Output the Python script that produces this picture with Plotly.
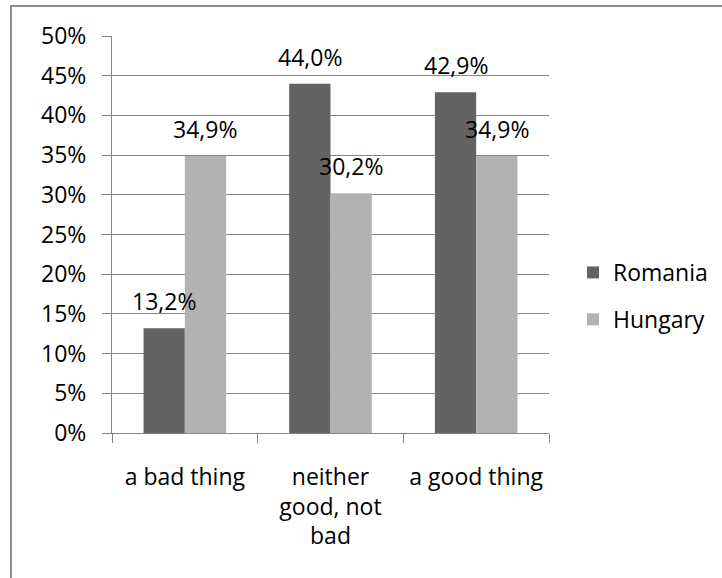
import plotly.graph_objects as go

categories = ["a bad thing", "neither good, not bad", "a good thing"]
tick_labels = ["a bad thing", "neither<br>good, not<br>bad", "a good thing"]
romania = [13.2, 44.0, 42.9]
hungary = [34.9, 30.2, 34.9]
series_names = ["Romania", "Hungary"]
y_ticks = [0, 5, 10, 15, 20, 25, 30, 35, 40, 45, 50]
y_tick_labels = [f"{v}%" for v in y_ticks]

FONT = "Open Sans, Liberation Sans, Arial, sans-serif"
FS = 23
DARK = "#636363"
LIGHT = "#b2b2b2"
GRID = "#868686"

W, H = 722, 578
L, R, T, B = 112, 173, 36, 145
plot_w = W - L - R
plot_h = H - T - B

fig = go.Figure()
for name, vals, col in [(series_names[0], romania, DARK), (series_names[1], hungary, LIGHT)]:
    fig.add_trace(go.Bar(
        name=name, x=categories, y=vals, marker=dict(color=col, line=dict(width=0)),
        legendgroup=name, hoverinfo="skip",
    ))

fmt = lambda v: f"{v:.1f}%".replace(".", ",")
bargap = 0.433
bar_w_px = plot_w / 3 * (1 - bargap) / 2
anns = []
for vals, sgn in [(romania, -1), (hungary, 1)]:
    for c, v in zip(categories, vals):
        anns.append(dict(
            x=c, y=v, xref="x", yref="y", text=fmt(v), showarrow=False,
            xanchor="center", yanchor="bottom", xshift=sgn * bar_w_px / 2, yshift=9,
            font=dict(family=FONT, size=FS, color="#000000"),
        ))

# chart-area border (top and left visible in the crop)
def px_to_paper_x(px):
    return (px - L) / plot_w

def px_to_paper_y(py):
    return (H - B - py) / plot_h

shapes = [
    dict(type="line", xref="paper", yref="paper",
         x0=px_to_paper_x(11), x1=px_to_paper_x(11),
         y0=px_to_paper_y(6), y1=px_to_paper_y(620),
         line=dict(color="#8c8c8c", width=2)),
    dict(type="line", xref="paper", yref="paper",
         x0=px_to_paper_x(10), x1=px_to_paper_x(760),
         y0=px_to_paper_y(6), y1=px_to_paper_y(6),
         line=dict(color="#8c8c8c", width=2)),
]

fig.update_layout(
    width=W, height=H,
    margin=dict(l=L, r=R, t=T, b=B, pad=0, autoexpand=False),
    paper_bgcolor="white", plot_bgcolor="white",
    barmode="group", bargap=bargap, bargroupgap=0,
    font=dict(family=FONT, size=FS, color="#000000"),
    showlegend=True,
    legend=dict(
        x=px_to_paper_x(573), xanchor="left",
        y=px_to_paper_y(296), yanchor="middle",
        font=dict(family=FONT, size=FS, color="#000000"),
        tracegroupgap=14, bgcolor="rgba(0,0,0,0)", itemclick=False,
    ),
    xaxis=dict(
        tickmode="array", tickvals=categories, ticktext=tick_labels,
        tickson="boundaries", ticks="outside", ticklen=9, tickcolor=GRID, tickwidth=1,
        showline=True, linecolor=GRID, linewidth=1, showgrid=False,
        ticklabelstandoff=23, tickangle=0, automargin=False,
        tickfont=dict(family=FONT, size=FS, color="#000000"),
    ),
    yaxis=dict(
        range=[0, 50], tickmode="array", tickvals=y_ticks, ticktext=y_tick_labels,
        ticks="outside", ticklen=9, tickcolor=GRID, tickwidth=1,
        showline=True, linecolor=GRID, linewidth=1,
        showgrid=True, gridcolor=GRID, gridwidth=1, zeroline=False,
        ticklabelstandoff=11, automargin=False,
        tickfont=dict(family=FONT, size=FS, color="#000000"),
    ),
    annotations=anns,
    shapes=shapes,
)

fig.write_html("out.html")
